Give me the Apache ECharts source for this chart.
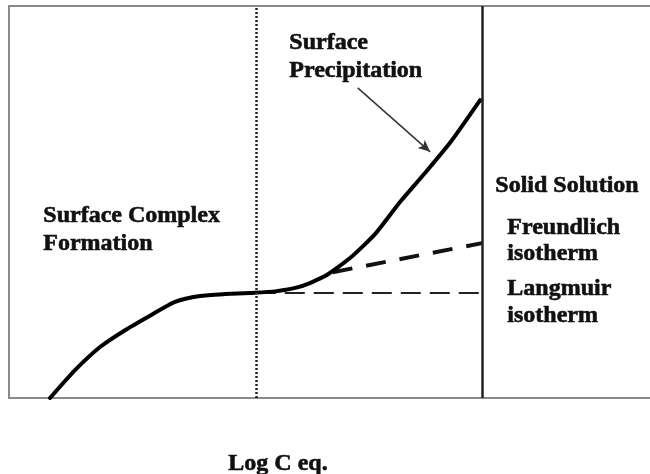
<!DOCTYPE html>
<html>
<head>
<meta charset="utf-8">
<script src="https://cdn.jsdelivr.net/npm/echarts@6/dist/echarts.min.js"></script>
<style>html,body{margin:0;padding:0;background:#fff}#c{width:650px;height:474px}</style>
</head>
<body>
<div id="c"></div>
<script>
// Sorption curve (log C eq. on x, sorbed amount on y), arbitrary 0-100 units
const xCurve = [6.4, 10.3, 14.2, 18.1, 22.0, 25.9, 29.8, 33.7, 37.6, 41.5, 45.4, 49.3, 53.2, 57.1, 61.0, 64.9, 68.8, 73.5];
const yCurve = [0, 7.1, 13.0, 17.3, 21.0, 24.5, 26.0, 26.5, 26.8, 27.2, 28.4, 31.1, 35.7, 41.8, 50.0, 57.4, 65.1, 76.0];
const xFreundlich = [50.5, 73.8];
const yFreundlich = [32.1, 39.5];
const xLangmuir = [38.5, 73.8];
const yLangmuir = [26.8, 26.8];
const complexBoundary = 38.5;
const solidBoundary = 73.8;
const arrowFrom = [54.4, 79.1];
const arrowTo = [65.7, 62.8];
const regionLabels = ["Surface Complex", "Formation", "Surface", "Precipitation", "Solid Solution", "Freundlich", "isotherm", "Langmuir", "isotherm"];
const axisTitle = "Log C eq.";

const zip = (xs, ys) => xs.map((x, i) => [x, ys[i]]);
const FONT = 'bold 24px "Liberation Serif", "Times New Roman", serif';
const txt = (text, x, y) => ({ type: 'text', left: x, top: y, style: { text, font: FONT, fill: '#111', stroke: '#111', lineWidth: 0.6 } });

const chart = echarts.init(document.getElementById('c'), null, { renderer: 'canvas' });
const axisBase = { type: 'value', min: 0, max: 100, axisTick: { show: false }, axisLabel: { show: false }, splitLine: { show: false } };
chart.setOption({
  animation: false,
  grid: { left: 9, right: 0, top: 6, bottom: 76 },
  xAxis: [
    Object.assign({}, axisBase, { position: 'bottom', axisLine: { show: true, lineStyle: { color: '#8a8a8a', width: 2 } } }),
    Object.assign({}, axisBase, { position: 'top', axisLine: { show: true, lineStyle: { color: '#8a8a8a', width: 2 } } })
  ],
  yAxis: Object.assign({}, axisBase, { axisLine: { show: true, lineStyle: { color: '#8a8a8a', width: 2 } } }),
  series: [
    {
      type: 'line', data: zip(xLangmuir, yLangmuir), symbol: 'none',
      lineStyle: { color: '#222', width: 2, type: [20, 9] }
    },
    {
      type: 'line', data: zip(xFreundlich, yFreundlich), symbol: 'none',
      lineStyle: { color: '#111', width: 4, type: [20, 14] }
    },
    {
      type: 'line', data: zip(xCurve, yCurve), symbol: 'none', smooth: 0.2,
      lineStyle: { color: '#000', width: 4, join: 'round', cap: 'round' },
      markLine: {
        silent: true, symbol: 'none', label: { show: false },
        data: [
          { xAxis: complexBoundary, lineStyle: { color: '#222', width: 2.5, type: [2, 2] } },
          { xAxis: solidBoundary, lineStyle: { color: '#222', width: 2.5, type: 'solid' } },
          [
            { coord: arrowFrom, symbol: 'none', lineStyle: { color: '#333', width: 1.5, type: 'solid' } },
            { coord: arrowTo, symbol: 'arrow', symbolSize: [8, 12] }
          ]
        ]
      }
    }
  ],
  graphic: [
    txt(regionLabels[0], 43, 203),
    txt(regionLabels[1], 43, 231),
    txt(regionLabels[2], 289, 30),
    txt(regionLabels[3], 289, 58),
    txt(regionLabels[4], 495, 173),
    txt(regionLabels[5], 507, 215),
    txt(regionLabels[6], 507, 241),
    txt(regionLabels[7], 507, 276),
    txt(regionLabels[8], 507, 303),
    txt(axisTitle, 228, 451)
  ]
});
</script>
</body>
</html>
